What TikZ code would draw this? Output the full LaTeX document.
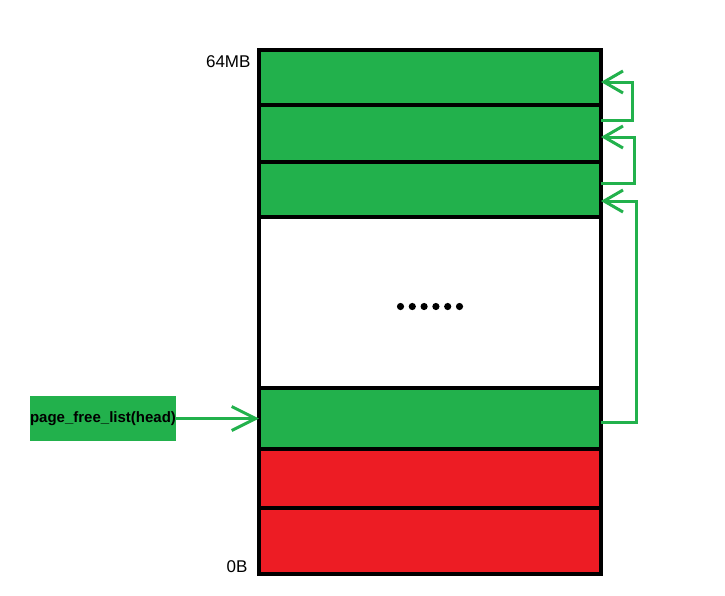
\documentclass[tikz,border=0pt]{standalone}
\usepackage{fontspec}
\setmainfont{Liberation Sans}
\usetikzlibrary{calc,positioning,arrows.meta}
\definecolor{pgreen}{HTML}{22B14C}
\definecolor{pred}{HTML}{ED1C24}

\begin{document}
\begin{tikzpicture}[x=1pt,y=-1pt,
	page/.style={draw=black, line width=3.2pt, minimum width=342pt, inner sep=0pt, outer sep=0pt},
	freepage/.style={page, fill=pgreen},
	usedpage/.style={page, fill=pred},
	link/.style={pgreen, line width=3pt, -{Straight Barb[length=19pt,width=22pt,line width=3pt]}}]
\useasboundingbox (0,0) rectangle (725,595);
\node[freepage, minimum height=55pt] (p1) at (430,77.5) {};
\node[freepage, minimum height=57pt, below=0pt of p1] (p2) {};
\node[freepage, minimum height=55pt, below=0pt of p2] (p3) {};
\node[page, fill=white, minimum height=171pt, below=0pt of p3] (p4) {};
\node[freepage, minimum height=61pt, below=0pt of p4] (p5) {};
\node[usedpage, minimum height=59pt, below=0pt of p5] (p6) {};
\node[usedpage, minimum height=66pt, below=0pt of p6] (p7) {};
\foreach \i in {0,1,2,3,4,5}{
	\fill ($(p4.center)+(-29.5+\i*11.8,4)$) circle (3.6pt);
	}
\node[anchor=east, font=\fontsize{17}{19}\selectfont] (top) at (254,62) {64MB};
\node[anchor=east, font=\fontsize{17}{19}\selectfont] (bot) at (251,567) {0B};
\node[fill=pgreen, minimum width=144pt, minimum height=45pt, inner sep=0pt,
	font=\fontsize{15}{17}\selectfont\bfseries] (head) at (103,418.5) {page\_free\_list(head)};
%links between the free pages
\draw[link] ($(p2.north east)+(0,15)$) -- ++(31,0) |- ($(p1.east)+(0,4.5)$);
\draw[link] ($(p3.north east)+(0,21)$) -- ++(33,0) |- ($(p2.east)+(0,3.5)$);
\draw[link] ($(p5.east)+(0,3.5)$) -- ++(35,0) |- ($(p3.east)+(0,11.5)$);
\draw[link, -{Straight Barb[length=24pt,width=24pt,line width=3pt]}] (head.east) -- (p5.west);
\end{tikzpicture}
\end{document}
